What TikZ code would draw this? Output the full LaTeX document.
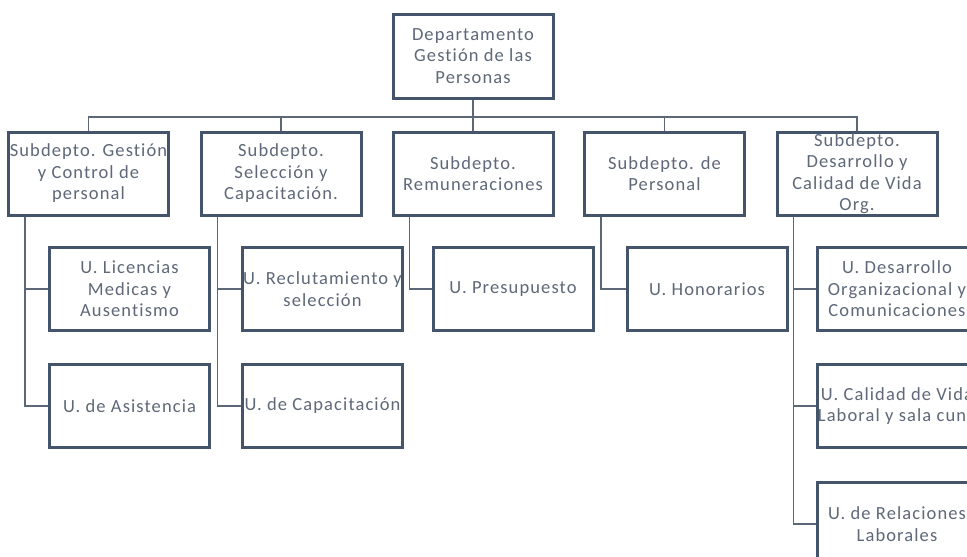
\documentclass[tikz,border=0pt]{standalone}
\usepackage{fontspec}
\setmainfont[Ligatures=NoCommon, LetterSpace=6]{Carlito}
\usetikzlibrary{calc}
\definecolor{boxline}{HTML}{44546A}
\definecolor{linkline}{HTML}{5C6878}
\definecolor{boxtext}{HTML}{5E6878}
\begin{document}
\begin{tikzpicture}[x=1pt,y=-1pt,
  unitbox/.style={draw=boxline, line width=3pt, fill=white, minimum width=160pt,
    minimum height=83pt, inner sep=0pt, align=center, text=boxtext,
    font=\fontsize{18.5}{21.5}\selectfont},
  link/.style={draw=linkline, line width=1.6pt}]
\useasboundingbox (0,0) rectangle (967,557);

% head of the department
\node[unitbox, minimum height=84pt] (dep) at (473,56) {Departamento\\Gestión de las\\Personas};

% sub-departments
\node[unitbox] (s1) at (88.5,173.5) {Subdepto. Gestión\\y Control de\\personal};
\node[unitbox] (s2) at (281,173.5) {Subdepto.\\Selección y\\Capacitación.};
\node[unitbox] (s3) at (473,173.5) {Subdepto.\\Remuneraciones};
\node[unitbox] (s4) at (664.5,173.5) {Subdepto. de\\Personal};
\node[unitbox] (s5) at (857,173.5) {Subdepto.\\Desarrollo y\\Calidad de Vida\\Org.};

% units
\node[unitbox] (u1) at (129.5,289) {U. Licencias\\Medicas y\\Ausentismo};
\node[unitbox] (u2) at (322.5,289) {U. Reclutamiento y\\selección};
\node[unitbox] (u3) at (513,289) {U. Presupuesto};
\node[unitbox] (u4) at (707,289) {U. Honorarios};
\node[unitbox] (u5) at (897,289) {U. Desarrollo\\Organizacional y\\Comunicaciones};
\node[unitbox] (u6) at (129.5,406) {U. de Asistencia};
\node[unitbox] (u7) at (322.5,406) {U. de Capacitación};
\node[unitbox] (u8) at (897,406) {U. Calidad de Vida\\Laboral y sala cuna};
\node[unitbox] (u9) at (897,524) {U. de Relaciones\\Laborales};

% department to sub-departments
\coordinate (bus) at (473,117);
\draw[link] (dep.south) -- (bus);
\foreach \s in {s1,s2,s3,s4,s5}
  \draw[link] (\s.north) |- (bus);

% sub-departments to their units
\foreach \s/\u in {s1/u1,s1/u6,s2/u2,s2/u7,s3/u3,s4/u4,s5/u5,s5/u8,s5/u9}
  \draw[link] ($(\s.south west)+(18,0)$) |- (\u.west);
\end{tikzpicture}
\end{document}
